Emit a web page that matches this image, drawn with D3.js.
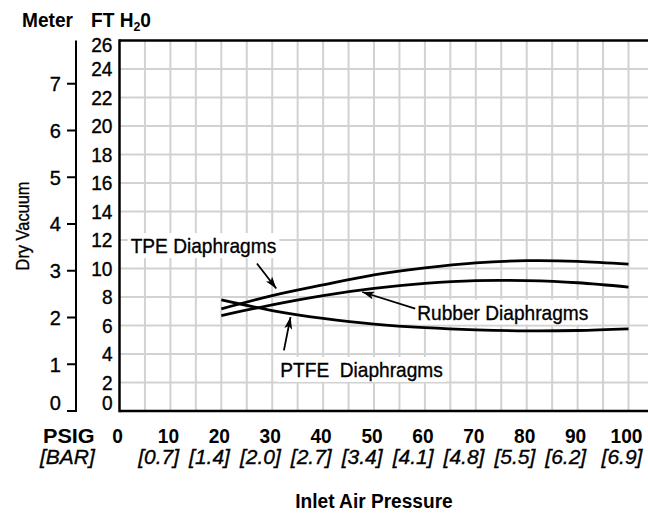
<!DOCTYPE html>
<html><head><meta charset="utf-8">
<script src="https://cdn.jsdelivr.net/npm/d3@7"></script>
<style>
body{margin:0;background:#fff}
svg text{font-family:"Liberation Sans",Arial,Helvetica,sans-serif;fill:#000}
svg text.reg{stroke:#000;stroke-width:0.35px}
</style>
</head><body>
<svg id="c" width="648" height="513"></svg>
<script>
// ---- data ----
const psi = [20, 30, 40, 50, 60, 70, 80, 90, 100];
const tpe = [7.17, 8.1, 8.85, 9.55, 10.05, 10.4, 10.55, 10.5, 10.3];
const rubber = [6.7, 7.45, 8.1, 8.6, 8.95, 9.15, 9.15, 9.0, 8.7];
const ptfe = [7.8, 7.05, 6.5, 6.1, 5.85, 5.7, 5.62, 5.65, 5.77];
const psiTicks = [0, 10, 20, 30, 40, 50, 60, 70, 80, 90, 100];
const barTicks = ["", "[0.7]", "[1.4]", "[2.0]", "[2.7]", "[3.4]", "[4.1]", "[4.8]", "[5.5]", "[6.2]", "[6.9]"];
const ftTicks = [0, 2, 4, 6, 8, 10, 12, 14, 16, 18, 20, 22, 24, 26];
const meterTicks = [0, 1, 2, 3, 4, 5, 6, 7];
const FT_PER_M = 3.28084;
// annotations (data units: psi, ft)
const notes = [
  {label: "TPE Diaphragms", tx: 2.2, ty: 11.08, ax1: 27.0, ay1: 10.35, ax2: 30.8, ay2: 8.6},
  {label: "Rubber Diaphragms", tx: 58.5, ty: 6.42, ax1: 58.1, ay1: 7.19, ax2: 47.7, ay2: 8.35},
  {label: "PTFE  Diaphragms", tx: 31.6, ty: 2.39, ax1: 32.3, ay1: 4.25, ax2: 33.6, ay2: 6.59}
];

const svg = d3.select("#c");
const W = 648;
const x = d3.scaleLinear().domain([0, 100]).range([119.5, 628.5]);
const y = d3.scaleLinear().domain([0, 26]).range([411, 40.5]);

function cond(sel, r) {
  r = r || 0.955;
  sel.each(function() {
    const L = this.getComputedTextLength();
    d3.select(this).attr("textLength", L * r).attr("lengthAdjust", "spacingAndGlyphs");
  });
  return sel;
}

// grid
const g = svg.append("g");
const vgrid = d3.range(5, 110, 5).filter(v => x(v) < W);
g.selectAll("line.v").data(vgrid).join("line")
  .attr("x1", d => x(d)).attr("x2", d => x(d))
  .attr("y1", y(26)).attr("y2", y(0))
  .attr("stroke", "#d2d2d2").attr("stroke-width", 2);
g.selectAll("line.h").data(ftTicks.filter(v => v > 0 && v < 26)).join("line")
  .attr("x1", x(0)).attr("x2", W)
  .attr("y1", d => y(d)).attr("y2", d => y(d))
  .attr("stroke", "#d2d2d2").attr("stroke-width", 2);

// frame
svg.append("line").attr("x1", x(0)).attr("x2", W).attr("y1", y(26)).attr("y2", y(26)).attr("stroke", "#000").attr("stroke-width", 2.5);
svg.append("line").attr("x1", x(0)).attr("x2", W).attr("y1", y(0)).attr("y2", y(0)).attr("stroke", "#000").attr("stroke-width", 2.5);
svg.append("line").attr("x1", x(0)).attr("x2", x(0)).attr("y1", y(26) - 1.2).attr("y2", y(0) + 1.2).attr("stroke", "#000").attr("stroke-width", 2.5);

// FT labels
cond(svg.selectAll("text.ft").data(ftTicks).join("text").attr("class", "reg")
  .attr("x", 112.5)
  .attr("y", d => d === 26 ? y(d) + 11.5 : d === 0 ? y(d) - 1 : y(d) + 7)
  .attr("text-anchor", "end").attr("font-size", 20).text(d => d));

// meter axis
const mx = 76;
svg.append("line").attr("x1", mx).attr("x2", mx).attr("y1", y(26)).attr("y2", y(0) + 1)
  .attr("stroke", "#000").attr("stroke-width", 2);
svg.selectAll("line.mt").data(meterTicks).join("line")
  .attr("x1", mx - 9).attr("x2", mx + 1)
  .attr("y1", d => y(d * FT_PER_M)).attr("y2", d => y(d * FT_PER_M))
  .attr("stroke", "#000").attr("stroke-width", 2);
cond(svg.selectAll("text.m").data(meterTicks).join("text").attr("class", "reg")
  .attr("x", 61)
  .attr("y", d => d === 0 ? y(0) - 1 : y(d * FT_PER_M) + 7.5)
  .attr("text-anchor", "end").attr("font-size", 21).text(d => d));

// titles
cond(svg.append("text").attr("x", 22).attr("y", 27).attr("font-size", 20).attr("font-weight", "bold").text("Meter"));
const ft = svg.append("text").attr("x", 91).attr("y", 27).attr("font-size", 20).attr("font-weight", "bold");
ft.append("tspan").text("FT H");
ft.append("tspan").attr("font-size", 13).attr("dy", 4).text("2");
ft.append("tspan").attr("dy", -4).text("0");
cond(ft);

cond(svg.append("text").attr("class", "reg").attr("transform", "translate(29,226) rotate(-90)")
  .attr("text-anchor", "middle").attr("font-size", 18).text("Dry Vacuum"), 0.91);

// x axis labels
cond(svg.append("text").attr("x", 43).attr("y", 443).attr("font-size", 21).attr("font-weight", "bold").text("PSIG"), 1.03);
cond(svg.append("text").attr("class", "reg").attr("x", 40).attr("y", 464).attr("font-size", 21).attr("font-style", "italic").text("[BAR]"), 1.0);
const numLabels = cond(svg.selectAll("text.px").data(psiTicks).join("text")
  .attr("x", d => x(d) - 2).attr("y", 443)
  .attr("text-anchor", "middle").attr("font-size", 20).attr("font-weight", "bold").text(d => d));
numLabels.each(function(d, i) {
  if (!barTicks[i]) return;
  const w = this.getComputedTextLength();
  svg.append("text").attr("class", "reg").attr("x", x(d) - 2 + w / 2).attr("y", 464)
    .attr("text-anchor", "end").attr("font-size", 21).attr("font-style", "italic").text(barTicks[i]);
});
cond(svg.append("text").attr("x", 374).attr("y", 508).attr("text-anchor", "middle")
  .attr("font-size", 20).attr("font-weight", "bold").text("Inlet Air Pressure"));

// annotations
const defs = svg.append("defs");
defs.append("marker").attr("id", "ah").attr("viewBox", "0 0 12 8").attr("refX", 12).attr("refY", 4)
  .attr("markerWidth", 12).attr("markerHeight", 8).attr("markerUnits", "userSpaceOnUse").attr("orient", "auto")
  .append("path").attr("d", "M0,0 L12,4 L0,8 L3,4 Z").attr("fill", "#000");

notes.forEach(n => {
  const bg = svg.append("rect").attr("fill", "#fff");
  const t = svg.append("text").attr("class", "reg").attr("x", x(n.tx)).attr("y", y(n.ty)).attr("font-size", 21)
    .attr("xml:space", "preserve").style("white-space", "pre").text(n.label);
  cond(t, 0.91);
  const b = t.node().getBBox();
  bg.attr("x", b.x - 3).attr("y", b.y - 1).attr("width", b.width + 6).attr("height", b.height + 2);
  svg.append("line").attr("x1", x(n.ax1)).attr("y1", y(n.ay1)).attr("x2", x(n.ax2)).attr("y2", y(n.ay2))
    .attr("stroke", "#000").attr("stroke-width", 1.8).attr("marker-end", "url(#ah)");
});

// curves
const line = d3.line().x(d => x(d[0])).y(d => y(d[1])).curve(d3.curveNatural);
[tpe, rubber, ptfe].forEach(s => {
  svg.append("path").datum(psi.map((p, i) => [p, s[i]])).attr("d", line)
    .attr("fill", "none").attr("stroke", "#000").attr("stroke-width", 2.8);
});
</script>
</body></html>
